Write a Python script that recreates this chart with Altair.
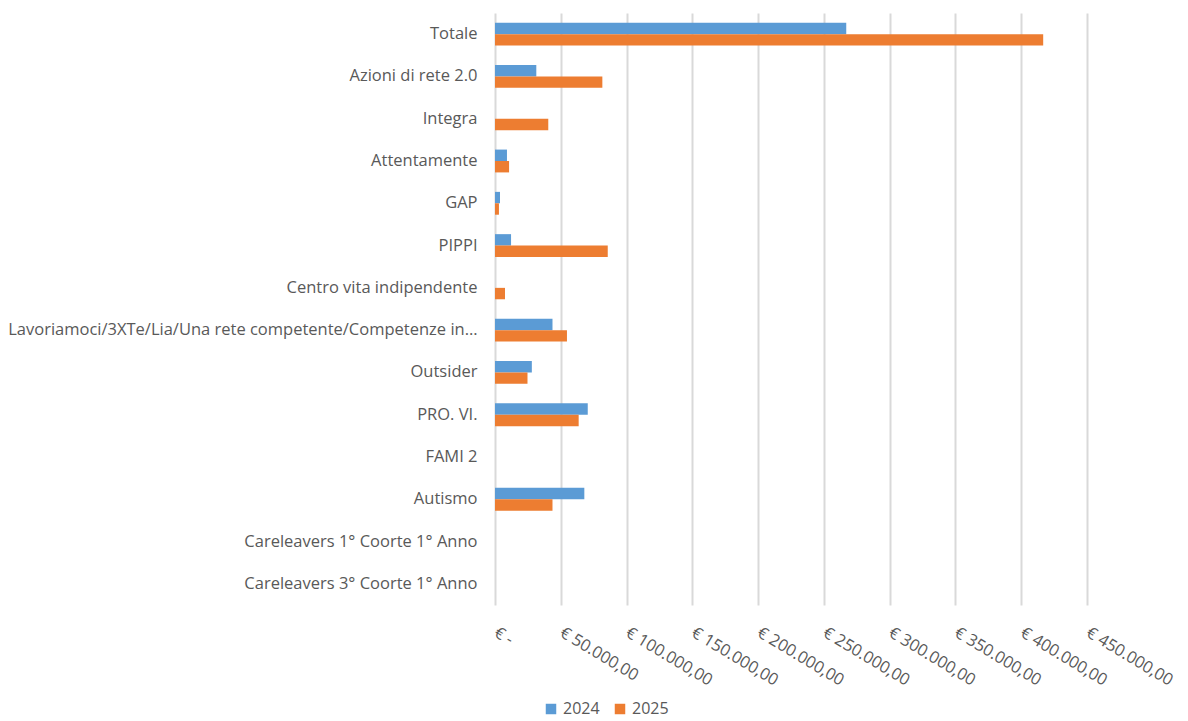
import altair as alt
import pandas as pd

categories = [
    "Totale",
    "Azioni di rete 2.0",
    "Integra",
    "Attentamente",
    "GAP",
    "PIPPI",
    "Centro vita indipendente",
    "Lavoriamoci/3XTe/Lia/Una rete competente/Competenze in…",
    "Outsider ",
    "PRO. VI.",
    "FAMI 2",
    "Autismo",
    "Careleavers 1° Coorte 1° Anno",
    "Careleavers 3° Coorte 1° Anno",
]
v2024 = [267000, 31400, None, 9100, 3800, 12200, None, 43700, 28000, 70500, None, 67900, None, None]
v2025 = [416700, 81600, 40500, 10700, 3000, 85700, 7600, 54700, 24700, 63600, None, 43700, None, None]
years = ["2024", "2025"]
colors = ["#5b9bd5", "#ed7d31"]

rows = []
for c, a, b in zip(categories, v2024, v2025):
    if a is not None:
        rows.append({"cat": c, "year": "2024", "value": a})
    if b is not None:
        rows.append({"cat": c, "year": "2025", "value": b})
df = pd.DataFrame(rows)

label_expr = "datum.value == 0 ? '€ -' : '€ ' + format(datum.value / 1000, 'd') + '.000,00'"

chart = alt.Chart(df).mark_bar().encode(
    y=alt.Y(
        "cat:N",
        sort=categories,
        scale=alt.Scale(domain=categories, paddingInner=0.46, paddingOuter=0.23),
        axis=alt.Axis(
            title=None, ticks=False, domain=False, labelFontSize=16.5,
            labelFont="Open Sans", labelColor="#595959", labelLimit=600, labelPadding=18,
        ),
    ),
    yOffset=alt.YOffset("year:N", sort=years),
    x=alt.X(
        "value:Q",
        scale=alt.Scale(domain=[0, 450000], nice=False),
        axis=alt.Axis(
            title=None, values=[i * 50000 for i in range(10)], labelExpr=label_expr,
            labelAngle=31, labelAlign="left", labelBaseline="middle", labelPadding=26,
            labelOverlap=False, labelFlush=False,
            labelFont="Open Sans", labelFontSize=16.5, labelColor="#595959",
            ticks=False, domain=False, grid=True, gridColor="#d9d9d9", gridWidth=2,
        ),
    ),
    color=alt.Color(
        "year:N",
        scale=alt.Scale(domain=years, range=colors),
        legend=alt.Legend(
            title=None, orient="none", direction="horizontal", legendX=48, legendY=688,
            symbolType="square", symbolSize=110, labelFont="Open Sans", labelFontSize=16,
            labelColor="#595959", columnPadding=12, symbolStrokeWidth=0,
        ),
    ),
).properties(
    width=592,
    height=592,
    autosize=alt.AutoSizeParams(type="none"),
    padding={"left": 495, "top": 13, "right": 101, "bottom": 116},
).configure_view(stroke=None)

chart.save("out.html", embed_options={"renderer": "svg", "actions": False})
